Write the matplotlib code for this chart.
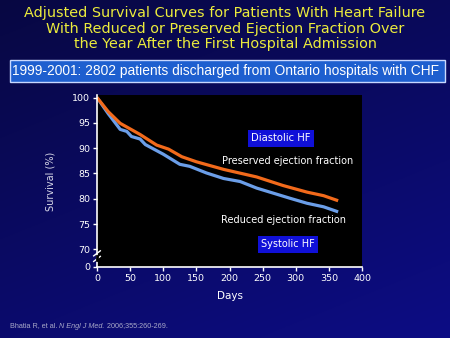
import numpy as np
import matplotlib
matplotlib.use('Agg')
import matplotlib.pyplot as plt
from matplotlib.patches import Rectangle

# survival curves (days, survival %)
days_pres = [0, 17, 35, 50, 65, 90, 108, 128, 150, 191, 241, 281, 317, 342, 364]
surv_pres = [100, 97.2, 94.9, 93.8, 92.7, 90.6, 89.8, 88.3, 87.3, 85.8, 84.3, 82.6, 81.3, 80.6, 79.6]

days_red = [0, 17, 35, 45, 52, 65, 73, 100, 125, 140, 165, 191, 216, 241, 266, 291, 317, 342, 364]
surv_red = [100, 96.8, 93.7, 93.3, 92.3, 91.8, 90.7, 88.8, 86.8, 86.4, 85.1, 84.0, 83.4, 82.1, 81.1, 80.1, 79.1, 78.4, 77.4]

yticks = [70, 75, 80, 85, 90, 95, 100]
xticks = [0, 50, 100, 150, 200, 250, 300, 350, 400]

Y0 = 66.5   # where the "0" sits after the axis break

W, H = 450, 338
fig = plt.figure(figsize=(W / 100, H / 100), dpi=100)

# navy gradient background
bg = fig.add_axes([0, 0, 1, 1])
yy, xx = np.mgrid[0:1:200j, 0:1:200j]
t = 0.65 * yy + 0.35 * xx
c0 = np.array([0.03, 0.03, 0.26])
c1 = np.array([0.05, 0.05, 0.52])
img = c0[None, None, :] * (1 - t[..., None]) + c1[None, None, :] * t[..., None]
bg.imshow(img, extent=[0, 1, 0, 1], aspect='auto', origin='upper')
bg.set_xlim(0, 1)
bg.set_ylim(0, 1)
bg.axis('off')

title = ('Adjusted Survival Curves for Patients With Heart Failure\n'
         'With Reduced or Preserved Ejection Fraction Over\n'
         'the Year After the First Hospital Admission')
fig.text(0.5, 1 - 28.5 / H, title, ha='center', va='center', color='#ecec3c',
         fontsize=10.4, family='DejaVu Sans', linespacing=1.13)

# subtitle box
bg.add_patch(Rectangle((10 / W, 1 - 82 / H), 435 / W, 22 / H, facecolor='#1e5fcf',
                       edgecolor='#c8d8ff', lw=1.0))
fig.text(0.5, 1 - 71 / H, '1999-2001: 2802 patients discharged from Ontario hospitals with CHF',
         ha='center', va='center', color='white', fontsize=9.9, family='Liberation Sans')

ax = fig.add_axes([97 / W, 1 - 267 / H, 265 / W, 172 / H])
ax.set_facecolor('black')
ax.plot(days_red, surv_red, color='#6b9ee8', lw=2.3, solid_capstyle='butt')
ax.plot(days_pres, surv_pres, color='#f26a1b', lw=2.3, solid_capstyle='butt')
ax.set_xlim(0, 400)
ax.set_ylim(Y0, 100.5)
ax.set_xticks(xticks)
ax.set_yticks([Y0] + yticks)
ax.set_yticklabels(['0'] + [str(v) for v in yticks])
for s in ['top', 'right']:
    ax.spines[s].set_visible(False)
for s in ['left', 'bottom']:
    ax.spines[s].set_color('white')
    ax.spines[s].set_linewidth(1.2)
ax.tick_params(colors='white', labelsize=6.8, length=3, width=1, direction='out', pad=2)
for lab in ax.get_xticklabels() + ax.get_yticklabels():
    lab.set_family('DejaVu Sans')

# axis break marks
for dy in (0, 1.1):
    ax.plot([-5, 5], [67.6 + dy, 68.6 + dy], color='white', lw=1, clip_on=False,
            transform=ax.transData)
ax.plot([0, 0], [67.9, 68.6], color='black', lw=2, clip_on=False, zorder=3)

ax.set_xlabel('Days', color='white', fontsize=7.5, labelpad=6)
ax.set_ylabel('Survival (%)', color='#d8d8e8', fontsize=7, labelpad=12)

ax.text(278, 92, 'Diastolic HF', color='white', fontsize=7.2, ha='center', va='center',
        bbox=dict(boxstyle='square,pad=0.35', facecolor='#1010d8', edgecolor='none'))
ax.text(287, 87.4, 'Preserved ejection fraction', color='white', fontsize=7.0,
        ha='center', va='center')
ax.text(281, 75.7, 'Reduced ejection fraction', color='white', fontsize=7.0,
        ha='center', va='center')
ax.text(288, 71, 'Systolic HF', color='white', fontsize=7.0, ha='center', va='center',
        bbox=dict(boxstyle='square,pad=0.35', facecolor='#1010d8', edgecolor='none'))

# citation, pieced together so the journal name is italic
fig.canvas.draw()
r = fig.canvas.get_renderer()
x = 10 / W
for piece, style in [('Bhatia R, et al. ', 'normal'), ('N Engl J Med.', 'italic'),
                     (' 2006;355:260-269.', 'normal')]:
    t_ = fig.text(x, 1 - 326 / H, piece, color='#a8a8c8', fontsize=5.2, style=style,
                  family='Liberation Sans', va='center', ha='left')
    bb = t_.get_window_extent(r)
    x += bb.width / W

fig.savefig('out.png', dpi=100)
